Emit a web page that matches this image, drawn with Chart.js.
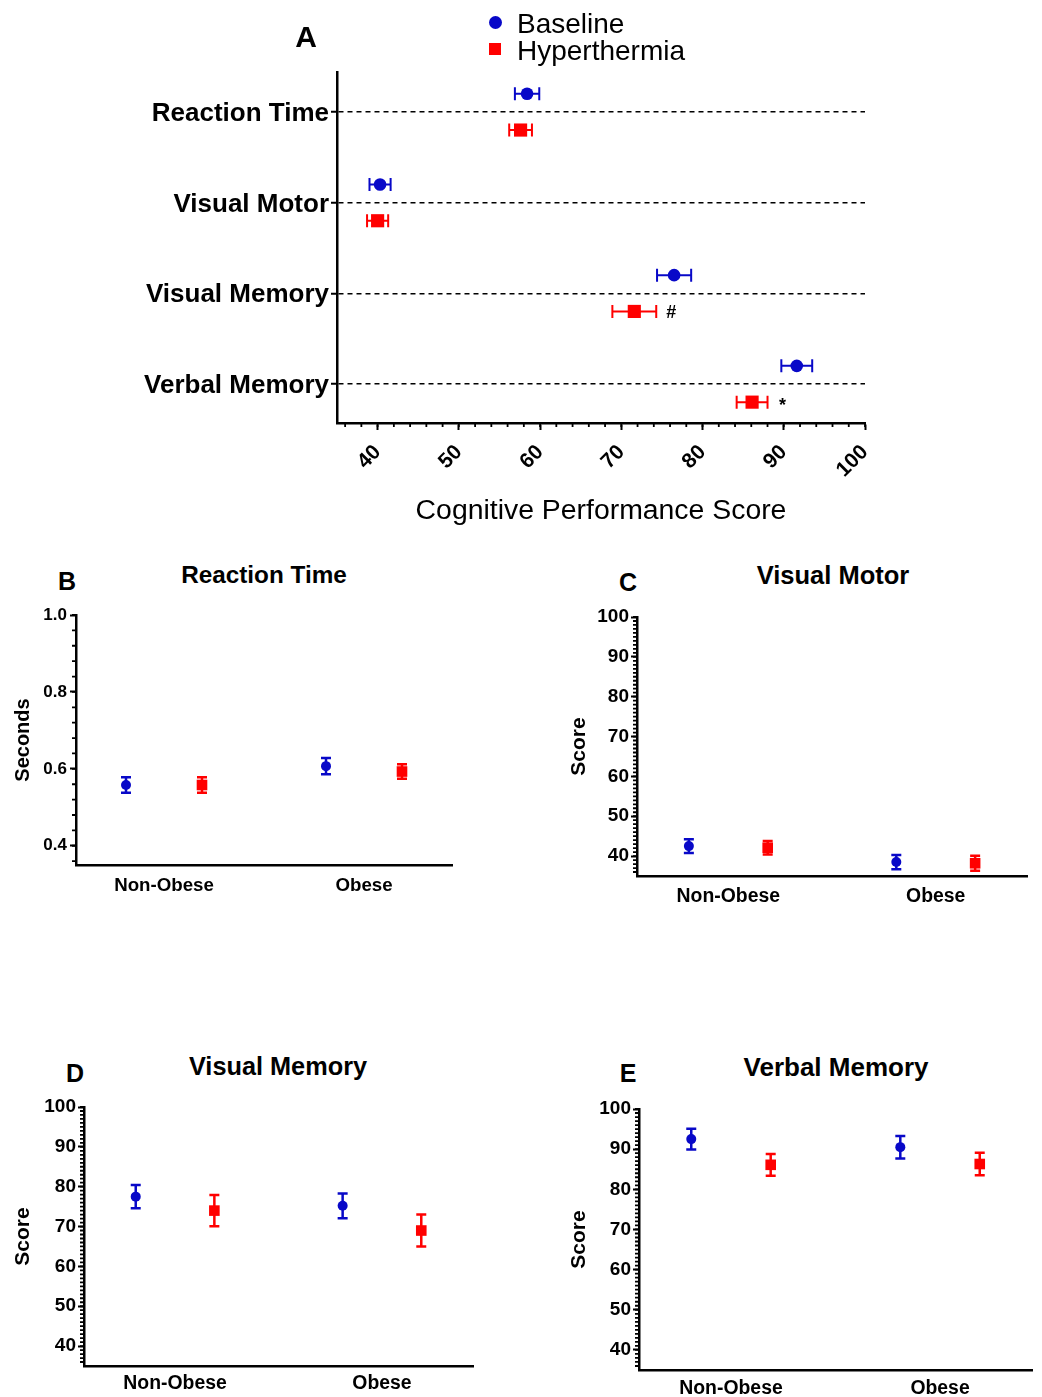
<!DOCTYPE html>
<html><head><meta charset="utf-8">
<script src="https://cdn.jsdelivr.net/npm/chart.js@4/dist/chart.umd.min.js"></script>
<style>
html,body{margin:0;padding:0;background:#fff;}
body{position:relative;width:1042px;height:1397px;overflow:hidden;font-family:"Liberation Sans",Arial,sans-serif;color:#000;}
canvas{position:absolute;}
.t{position:absolute;transform:translate(-50%,-50%);white-space:nowrap;line-height:1;font-weight:bold;}
.lg{position:absolute;transform:translateY(-50%);white-space:nowrap;line-height:1;font-size:28px;}
</style></head><body>
<canvas id="cA" width="1042" height="540" style="left:0;top:0"></canvas>
<canvas id="cB" width="520" height="300" style="left:0;top:600px"></canvas>
<canvas id="cC" width="482" height="310" style="left:560px;top:600px"></canvas>
<canvas id="cD" width="520" height="307" style="left:0;top:1090px"></canvas>
<canvas id="cE" width="482" height="307" style="left:560px;top:1090px"></canvas>

<div class="t" style="left:306px;top:37px;font-size:30px">A</div>
<div style="position:absolute;left:489px;top:16px;width:13px;height:13px;border-radius:50%;background:#0808c8"></div>
<div class="lg" style="left:517px;top:24px">Baseline</div>
<div style="position:absolute;left:489px;top:43px;width:12px;height:12px;background:#ff0000"></div>
<div class="lg" style="left:517px;top:51px">Hyperthermia</div>

<div class="t" style="left:67px;top:581px;font-size:25px">B</div>
<div class="t" style="left:264px;top:575px;font-size:24.3px">Reaction Time</div>
<div class="t" style="left:628px;top:582px;font-size:25px">C</div>
<div class="t" style="left:833px;top:576px;font-size:25.5px">Visual Motor</div>
<div class="t" style="left:75px;top:1073px;font-size:25px">D</div>
<div class="t" style="left:278px;top:1067px;font-size:25.3px">Visual Memory</div>
<div class="t" style="left:628px;top:1073px;font-size:25px">E</div>
<div class="t" style="left:836px;top:1067px;font-size:26px">Verbal Memory</div>

<script>
// ---------------- data ----------------
const measures = ['Reaction Time', 'Visual Motor', 'Visual Memory', 'Verbal Memory'];
const baselineScore = [58.4, 40.3, 76.5, 91.6];
const baselineSem = [1.5, 1.3, 2.1, 1.9];
const hyperScore = [57.6, 40.0, 71.6, 86.1];
const hyperSem = [1.4, 1.3, 2.7, 1.9];
const significance = ['', '', '#', '*'];
const scoreTicksA = [40, 50, 60, 70, 80, 90, 100];

const groups = ['Non-Obese', 'Obese'];
const rtBaseline = [0.558, 0.607];
const rtBaselineSem = [0.020, 0.021];
const rtHyper = [0.558, 0.593];
const rtHyperSem = [0.020, 0.019];
const vmoBaseline = [42.5, 38.5];
const vmoBaselineSem = [1.7, 1.8];
const vmoHyper = [42.1, 38.2];
const vmoHyperSem = [1.7, 1.9];
const vmeBaseline = [77.5, 75.2];
const vmeBaselineSem = [2.9, 3.1];
const vmeHyper = [74.0, 69.0];
const vmeHyperSem = [3.9, 4.0];
const vbBaseline = [92.5, 90.5];
const vbBaselineSem = [2.6, 2.8];
const vbHyper = [86.1, 86.3];
const vbHyperSem = [2.7, 2.8];
const secondsTicks = [0.4, 0.6, 0.8, 1.0];
const scoreTicks = [40, 50, 60, 70, 80, 90, 100];

// ---------------- styling ----------------
const BLUE = '#0808c8', RED = '#ff0000';
const FONT = '"Liberation Sans", Arial, sans-serif';
Chart.defaults.font.family = FONT;
Chart.defaults.color = '#000';

const errorBarPlugin = {
  id: 'errorBars',
  beforeDatasetsDraw(chart, args, opts) {
    const ctx = chart.ctx, xs = chart.scales.x, ys = chart.scales.y;
    chart.data.datasets.forEach((ds, di) => {
      const meta = chart.getDatasetMeta(di);
      ctx.save();
      ctx.strokeStyle = ds.backgroundColor;
      ctx.lineWidth = opts.width;
      ctx.beginPath();
      ds.data.forEach((p, i) => {
        const e = ds.errors[i], pt = meta.data[i], c = opts.cap;
        if (opts.horizontal) {
          const a = xs.getPixelForValue(p.x - e), b = xs.getPixelForValue(p.x + e);
          ctx.moveTo(a, pt.y); ctx.lineTo(b, pt.y);
          ctx.moveTo(a, pt.y - c); ctx.lineTo(a, pt.y + c);
          ctx.moveTo(b, pt.y - c); ctx.lineTo(b, pt.y + c);
        } else {
          const a = ys.getPixelForValue(p.y - e), b = ys.getPixelForValue(p.y + e);
          ctx.moveTo(pt.x, a); ctx.lineTo(pt.x, b);
          ctx.moveTo(pt.x - c, a); ctx.lineTo(pt.x + c, a);
          ctx.moveTo(pt.x - c, b); ctx.lineTo(pt.x + c, b);
        }
      });
      ctx.stroke();
      ctx.restore();
    });
  },
  afterDatasetsDraw(chart, args, opts) {
    if (!opts.marks) return;
    const ctx = chart.ctx, xs = chart.scales.x;
    const ds = chart.data.datasets[opts.marksDataset];
    const meta = chart.getDatasetMeta(opts.marksDataset);
    ctx.save();
    ctx.fillStyle = '#000';
    ctx.font = 'bold 18px ' + FONT;
    ctx.textAlign = 'center';
    ctx.textBaseline = 'middle';
    opts.marks.forEach((m, i) => {
      if (!m) return;
      const px = xs.getPixelForValue(ds.data[i].x + ds.errors[i]) + opts.markGap;
      ctx.fillText(m, px, meta.data[i].y + (m === '*' ? 4 : 2));
    });
    ctx.restore();
  },
  afterDraw(chart, args, opts) {
    const m = opts.minor;
    if (!m) return;
    const ctx = chart.ctx, s = chart.scales[m.axis];
    ctx.save();
    ctx.strokeStyle = '#000';
    ctx.lineWidth = m.width;
    ctx.beginPath();
    const n = Math.round((m.to - m.from) / m.step);
    for (let k = 0; k <= n; k++) {
      const p = s.getPixelForValue(m.from + k * m.step);
      if (m.axis === 'x') { ctx.moveTo(p, s.top); ctx.lineTo(p, s.top + m.length); }
      else { ctx.moveTo(s.right - m.length, p); ctx.lineTo(s.right, p); }
    }
    ctx.stroke();
    ctx.restore();
  }
};

// ---------------- Panel A ----------------
const DODGE_A = 0.2;
new Chart(document.getElementById('cA'), {
  type: 'scatter',
  data: {
    datasets: [
      { label: 'Baseline', data: measures.map((m, i) => ({ x: baselineScore[i], y: i - DODGE_A })), errors: baselineSem,
        pointStyle: 'circle', pointRadius: 6.3, backgroundColor: BLUE, borderColor: BLUE, borderWidth: 0 },
      { label: 'Hyperthermia', data: measures.map((m, i) => ({ x: hyperScore[i], y: i + DODGE_A })), errors: hyperSem,
        pointStyle: 'rect', pointRadius: 9.3, backgroundColor: RED, borderColor: RED, borderWidth: 0 }
    ]
  },
  options: {
    responsive: false, animation: false, events: [],
    layout: { padding: { top: 72, right: 177, left: 0, bottom: 0 } },
    plugins: {
      legend: { display: false }, tooltip: { enabled: false },
      errorBars: { horizontal: true, width: 2, cap: 6.5, marks: significance, marksDataset: 1, markGap: 15,
                   minor: { axis: 'x', from: 36, to: 100, step: 2, length: 4, width: 1.8 } }
    },
    scales: {
      x: {
        type: 'linear', min: 35, max: 100,
        afterBuildTicks: s => { s.ticks = scoreTicksA.map(v => ({ value: v })); },
        afterFit: s => { s.height = 117; },
        ticks: { font: { size: 21, weight: 'bold' }, minRotation: 45, maxRotation: 45, autoSkip: false, padding: 10 },
        grid: { drawOnChartArea: false, drawTicks: true, tickLength: 7, tickWidth: 2, tickColor: '#000' },
        border: { display: true, color: '#000', width: 2.5 },
        title: { display: true, text: 'Cognitive Performance Score', font: { size: 28.4, weight: 'normal' }, padding: { top: 0, bottom: 12 } }
      },
      y: {
        type: 'linear', min: -0.44, max: 3.43, reverse: true,
        afterBuildTicks: s => { s.ticks = measures.map((m, i) => ({ value: i })); },
        afterFit: s => { s.width = 337; },
        ticks: { callback: v => measures[v], font: { size: 26, weight: 'bold' }, padding: 2, labelOffset: 2 },
        grid: { drawOnChartArea: true, color: '#000', lineWidth: 1.5, drawTicks: true, tickLength: 6, tickWidth: 2, tickColor: '#000', tickBorderDash: [] },
        border: { display: true, color: '#000', width: 2.5, dash: [5, 4] }
      }
    }
  },
  plugins: [errorBarPlugin]
});

// ---------------- Panels B-E ----------------
const DODGE_G = 0.19;
function groupChart(id, c) {
  return new Chart(document.getElementById(id), {
    type: 'scatter',
    data: {
      datasets: [
        { label: 'Baseline', data: groups.map((g, i) => ({ x: i - DODGE_G, y: c.base[i] })), errors: c.baseSem,
          pointStyle: 'circle', pointRadius: 5, backgroundColor: BLUE, borderColor: BLUE, borderWidth: 0 },
        { label: 'Hyperthermia', data: groups.map((g, i) => ({ x: i + DODGE_G, y: c.hyper[i] })), errors: c.hyperSem,
          pointStyle: 'rect', pointRadius: 7.5, backgroundColor: RED, borderColor: RED, borderWidth: 0 }
      ]
    },
    options: {
      responsive: false, animation: false, events: [],
      layout: { padding: { top: c.padTop, right: c.padRight, left: 0, bottom: 0 } },
      plugins: {
        legend: { display: false }, tooltip: { enabled: false },
        errorBars: { horizontal: false, width: 2.5, cap: 5,
                     minor: { axis: 'y', from: c.minorFrom, to: c.minorTo, step: c.minorStep, length: 4, width: 1.8 } }
      },
      scales: {
        x: {
          type: 'linear', min: -0.44, max: 1.44,
          afterBuildTicks: s => { s.ticks = groups.map((g, i) => ({ value: i })); },
          afterFit: s => { s.height = c.xHeight; },
          ticks: { callback: v => groups[v], font: { size: c.xFont, weight: 'bold' }, padding: c.xPad, maxRotation: 0, autoSkip: false },
          grid: { display: false, drawTicks: false },
          border: { display: true, color: '#000', width: 2.5 }
        },
        y: {
          type: 'linear', min: c.yMin, max: c.yMax,
          afterBuildTicks: s => { s.ticks = c.ticks.map(v => ({ value: v })); },
          afterFit: s => { s.width = c.yWidth; },
          ticks: { callback: c.fmt, font: { size: c.yFont, weight: 'bold' }, padding: c.yPad },
          grid: { drawOnChartArea: false, drawTicks: true, tickLength: 6, tickWidth: 2, tickColor: '#000' },
          border: { display: true, color: '#000', width: 2.5 },
          title: { display: true, text: c.yTitle, font: { size: c.yTitleSize, weight: 'bold' }, padding: { top: c.yTitlePad, bottom: 0 } }
        }
      }
    },
    plugins: [errorBarPlugin]
  });
}

groupChart('cB', { base: rtBaseline, baseSem: rtBaselineSem, hyper: rtHyper, hyperSem: rtHyperSem,
  yMin: 0.35, yMax: 1.0, ticks: secondsTicks, fmt: v => v.toFixed(1), minorFrom: 0.36, minorTo: 1.0, minorStep: 0.04,
  yFont: 17, yPad: 3, xFont: 18.7,
  yTitle: 'Seconds', yTitleSize: 20, yTitlePad: 11, padTop: 15, padRight: 68, yWidth: 76, xHeight: 35, xPad: 10 });

groupChart('cC', { base: vmoBaseline, baseSem: vmoBaselineSem, hyper: vmoHyper, hyperSem: vmoHyperSem,
  yMin: 35, yMax: 100, ticks: scoreTicks, fmt: v => String(v), minorFrom: 36, minorTo: 100, minorStep: 1,
  yFont: 19, yPad: 2, xFont: 19.4,
  yTitle: 'Score', yTitleSize: 21, yTitlePad: 7, padTop: 17, padRight: 15, yWidth: 77, xHeight: 34, xPad: 9 });

groupChart('cD', { base: vmeBaseline, baseSem: vmeBaselineSem, hyper: vmeHyper, hyperSem: vmeHyperSem,
  yMin: 35, yMax: 100, ticks: scoreTicks, fmt: v => String(v), minorFrom: 36, minorTo: 100, minorStep: 1,
  yFont: 19, yPad: 2, xFont: 19.4,
  yTitle: 'Score', yTitleSize: 21, yTitlePad: 11, padTop: 17, padRight: 47, yWidth: 84, xHeight: 31, xPad: 6 });

groupChart('cE', { base: vbBaseline, baseSem: vbBaselineSem, hyper: vbHyper, hyperSem: vbHyperSem,
  yMin: 35, yMax: 100, ticks: scoreTicks, fmt: v => String(v), minorFrom: 36, minorTo: 100, minorStep: 1,
  yFont: 19, yPad: 2, xFont: 19.4,
  yTitle: 'Score', yTitleSize: 21, yTitlePad: 7, padTop: 19, padRight: 10, yWidth: 79, xHeight: 27, xPad: 7 });
</script>
</body></html>
